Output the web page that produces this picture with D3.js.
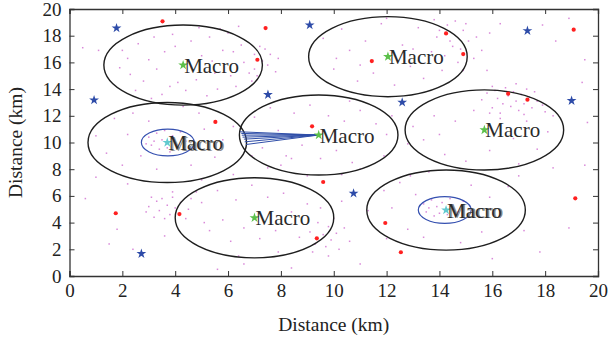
<!DOCTYPE html>
<html>
<head>
<meta charset="utf-8">
<script src="https://cdn.jsdelivr.net/npm/d3@7"></script>
<style>
body { margin: 0; background: #fff; }
</style>
</head>
<body>
<script>
var width = 610;
var height = 341;
var margin = { top: 9, right: 12, bottom: 65, left: 69.5 };
var fontFamily = '"Liberation Serif", "Times New Roman", serif';

var xTicks = [0, 2, 4, 6, 8, 10, 12, 14, 16, 18, 20];
var yTicks = [0, 2, 4, 6, 8, 10, 12, 14, 16, 18, 20];

// macro cells: centre (km), coverage radius 3 km
var macroX = [4.3, 12.05, 9.43, 15.7, 3.7, 7.0, 14.25];
var macroY = [15.8, 16.43, 10.56, 10.94, 10.0, 4.36, 4.94];
var macroR = [3, 3, 3, 3, 3, 3, 3];

// small cells inside macro 5 and 7
var smallX = [3.72, 14.2];
var smallY = [10.0, 4.94];
var smallR = [1, 1];

// links from macro 3
var linkX = [6.45, 6.5, 6.52, 6.55, 6.6, 6.63, 6.68];
var linkY = [10.8, 10.68, 10.55, 10.4, 10.25, 10.05, 9.85];

var blueX = [1.78, 0.93, 9.09, 7.51, 12.59, 17.33, 19.0, 10.75, 2.72];
var blueY = [18.57, 13.18, 18.8, 13.58, 13.01, 18.37, 13.13, 6.19, 1.67];

var redX = [3.52, 7.42, 14.25, 11.44, 14.9, 19.08, 7.11, 16.6, 17.33, 9.18, 5.52, 9.6, 1.75, 4.16, 9.36, 11.95, 12.54, 19.14];
var redY = [19.08, 18.57, 18.17, 16.1, 16.62, 18.45, 16.2, 13.66, 13.21, 11.21, 11.54, 7.04, 4.7, 4.64, 2.82, 3.97, 1.78, 5.82];

var users = [
    [2.0,16.9],[2.3,15.1],[2.6,17.4],[2.8,14.6],[3.0,16.2],[3.2,17.9],[3.3,15.5],[3.5,13.6],[3.6,16.8],[3.8,14.2],
    [3.9,18.1],[4.0,17.2],[4.4,13.9],[4.6,17.6],[4.8,14.7],[5.0,16.5],[5.2,13.5],[5.3,17.9],[5.5,15.2],[5.6,14.0],
    [5.8,16.9],[6.0,18.2],[6.1,15.0],[6.3,14.2],[6.5,17.3],[6.6,16.0],[6.8,15.2],[7.0,16.6],[7.2,17.2],[6.9,14.6],
    [2.5,13.9],[3.1,13.3],[4.9,18.6],[5.7,18.5],[6.4,18.7],[1.9,15.6],[2.2,16.3],[4.1,14.5],[5.4,16.1],[6.2,16.8],
    [0.5,17.1],[1.1,16.9],
    [9.6,17.8],[10.0,15.5],[10.3,18.5],[10.6,16.9],[10.9,14.6],[11.2,17.6],[11.5,15.2],[11.8,18.9],[12.3,14.3],[12.6,17.3],
    [12.9,15.7],[13.2,18.6],[13.4,14.8],[13.7,16.8],[13.9,17.9],[14.1,15.4],[14.3,18.8],[14.5,17.2],[14.7,16.0],[14.9,18.4],
    [15.1,17.6],[15.3,16.3],[14.6,19.1],[14.0,18.4],[14.4,17.6],[14.8,17.0],[15.0,18.9],[13.8,19.2],[15.4,17.9],[14.2,16.5],
    [14.9,15.4],[15.6,16.9],[15.8,15.4],[10.1,16.3],[11.0,15.8],[12.0,19.3],[13.0,17.0],
    [15.6,13.2],[15.8,13.7],[16.0,12.6],[16.1,13.9],[16.2,13.3],[16.4,12.9],[16.5,14.1],[16.6,13.5],[16.7,12.7],[16.8,13.8],
    [16.9,13.1],[17.0,12.4],[17.1,13.6],[17.2,12.9],[17.3,14.0],[17.4,13.4],[17.5,12.6],[17.7,13.1],[17.9,12.8],[16.3,12.2],
    [16.0,14.2],[17.6,13.8],[16.9,14.4],[15.9,12.2],[18.0,12.3],[17.2,12.1],
    [13.0,11.2],[13.4,10.2],[13.8,12.0],[14.2,9.1],[14.6,11.6],[15.0,8.6],[15.3,12.4],[15.9,9.4],[16.3,11.8],[16.8,10.3],
    [17.3,11.6],[17.7,9.5],[18.1,10.8],[14.0,10.6],[17.0,8.4],[18.3,12.0],[12.8,9.9],[19.6,11.5],[19.4,14.5],
    [17.9,18.8],[18.4,17.6],[19.5,16.2],[18.9,19.3],[16.3,18.9],[15.9,18.2],
    [7.0,11.9],[7.3,9.6],[7.6,12.6],[7.9,10.9],[8.2,9.0],[8.5,12.2],[8.8,9.8],[9.1,12.8],[9.5,8.8],[9.8,12.0],
    [10.1,9.4],[10.4,11.6],[10.7,8.5],[11.0,12.4],[11.3,10.0],[11.6,11.4],[11.9,9.0],[8.0,8.3],[10.6,13.1],[12.2,12.0],
    [6.9,9.0],[7.5,8.1],[12.0,10.6],
    [7.0,15.5],[7.3,16.1],[7.5,15.8],[7.6,16.6],[7.8,15.3],[7.4,17.0],[7.9,16.3],[7.1,15.0],
    [1.0,10.5],[1.4,9.2],[1.7,11.8],[2.0,8.3],[2.4,12.2],[2.7,9.0],[3.0,11.6],[3.3,8.0],[4.3,12.7],[4.6,8.3],
    [5.1,11.0],[5.5,8.9],[5.8,10.2],[6.2,11.2],[2.2,10.6],[4.9,12.2],
    [3.0,10.4],[3.1,9.8],[3.3,10.7],[3.4,9.5],[3.5,10.2],[3.6,10.9],[3.8,9.3],[3.9,10.5],[4.1,9.8],[4.2,10.8],
    [4.4,10.1],[3.2,10.1],[3.7,9.6],[2.9,9.9],[4.5,9.6],
    [2.9,4.8],[3.0,5.2],[3.2,4.4],[3.3,5.6],[3.4,4.9],[3.5,5.8],[3.6,4.3],[3.7,5.3],[3.8,4.6],[3.9,5.9],
    [4.0,5.1],[4.2,5.5],[4.4,4.3],[3.1,5.9],[4.6,5.8],[4.5,5.0],[2.2,6.9],[3.6,3.0],[1.8,3.5],[3.9,6.3],
    [5.0,5.5],[5.3,3.4],[5.6,6.4],[5.8,4.2],[6.1,2.6],[6.3,5.7],[6.6,3.6],[6.9,6.8],[7.2,2.8],[7.5,5.9],
    [7.8,3.4],[8.1,6.2],[8.4,4.8],[8.7,2.9],[9.0,5.4],[6.4,1.5],[5.1,4.0],[4.8,6.3],[7.9,1.8],
    [9.1,3.3],[9.3,2.4],[9.4,4.0],[9.6,3.1],[9.7,2.2],[9.8,3.7],[9.9,2.7],[10.0,4.3],[10.1,3.2],[10.2,2.0],
    [10.4,3.6],[9.5,5.1],[10.3,5.6],[9.2,1.8],[10.6,2.6],[9.8,1.5],
    [8.4,8.8],[9.0,7.5],[10.3,7.6],[11.0,8.0],[6.2,7.6],[5.0,7.2],
    [11.9,6.4],[12.2,5.1],[12.5,7.0],[12.8,3.5],[13.1,6.1],[13.4,2.9],[15.2,6.8],[15.6,3.3],[15.9,5.9],[16.3,4.4],
    [16.6,6.7],[12.9,7.5],[13.6,7.8],[14.8,2.5],[11.3,4.9],[17.2,3.4],[18.3,8.1],[17.0,7.5],
    [13.4,5.4],[13.5,4.8],[13.7,5.7],[13.8,4.5],[13.9,5.2],[14.0,4.7],[14.1,5.5],[14.3,4.6],[14.5,5.3],[14.7,4.8],
    [14.9,5.6],[13.6,5.1],[14.4,5.8],
    [1.0,7.4],[1.5,2.4],[2.4,2.0],[0.6,5.8],[8.4,0.6],[11.0,0.9],[12.0,2.8],[16.0,1.3],[17.8,1.8],[18.9,3.6],
    [19.5,8.3],[5.6,0.5],[6.6,0.9]
];

var svg = d3.select('body')
    .append('svg')
    .attr('width', width)
    .attr('height', height);

var x = d3.scaleLinear().domain([0, 20]).range([margin.left, width - margin.right]);
var y = d3.scaleLinear().domain([0, 20]).range([height - margin.bottom, margin.top]);
var kx = x(1) - x(0);
var ky = y(0) - y(1);

var plot = svg.append('g');

// users
plot.selectAll('rect.user')
    .data(users)
    .enter()
    .append('rect')
    .attr('class', 'user')
    .attr('x', function(d) { return x(d[0]) - 0.75; })
    .attr('y', function(d) { return y(d[1]) - 0.75; })
    .attr('width', 1.5)
    .attr('height', 1.5)
    .attr('fill', '#d06ccf')
    .attr('opacity', 0.8);

// coverage circles (km) -> ellipses on screen
plot.selectAll('ellipse.macro')
    .data(macroX)
    .enter()
    .append('ellipse')
    .attr('cx', function(d) { return x(d); })
    .attr('cy', function(d, i) { return y(macroY[i]); })
    .attr('rx', function(d, i) { return macroR[i] * kx; })
    .attr('ry', function(d, i) { return macroR[i] * ky; })
    .attr('fill', 'none')
    .attr('stroke', '#1e1e1e')
    .attr('stroke-width', 1.4);

plot.selectAll('ellipse.small')
    .data(smallX)
    .enter()
    .append('ellipse')
    .attr('cx', function(d) { return x(d); })
    .attr('cy', function(d, i) { return y(smallY[i]); })
    .attr('rx', function(d, i) { return smallR[i] * kx; })
    .attr('ry', function(d, i) { return smallR[i] * ky; })
    .attr('fill', 'none')
    .attr('stroke', '#3550b0')
    .attr('stroke-width', 1.2);

// links
plot.selectAll('line.link')
    .data(linkX)
    .enter()
    .append('line')
    .attr('x1', x(macroX[2]))
    .attr('y1', y(macroY[2]))
    .attr('x2', function(d) { return x(d); })
    .attr('y2', function(d, i) { return y(linkY[i]); })
    .attr('stroke', '#2f4ea8')
    .attr('stroke-width', 1);

// red dots
plot.selectAll('circle.red')
    .data(redX)
    .enter()
    .append('circle')
    .attr('cx', function(d) { return x(d); })
    .attr('cy', function(d, i) { return y(redY[i]); })
    .attr('r', 2.1)
    .attr('fill', '#ff2020');

var star = d3.symbol().type(d3.symbolStar).size(30);

plot.selectAll('path.blue')
    .data(blueX)
    .enter()
    .append('path')
    .attr('d', star)
    .attr('transform', function(d, i) { return 'translate(' + x(d) + ',' + y(blueY[i]) + ')'; })
    .attr('fill', '#2d4ba8');

// macro stars
plot.selectAll('path.macro')
    .data(macroX)
    .enter()
    .append('path')
    .attr('d', star)
    .attr('transform', function(d, i) { return 'translate(' + x(d) + ',' + y(macroY[i]) + ')'; })
    .attr('fill', function(d, i) { return (i === 4 || i === 6) ? '#62c9cf' : '#5cc04a'; });

// labels (macro 5 and 7 are drawn twice, slightly offset)
macroX.forEach(function(d, i) {
    if (i === 4 || i === 6) {
        plot.append('text')
            .attr('x', x(d) + 2.5)
            .attr('y', y(macroY[i]) + 8)
            .attr('font-size', 21)
            .style('font-family', fontFamily)
            .attr('fill', '#888')
            .text('Macro');
    }
    plot.append('text')
        .attr('x', x(d) + 1)
        .attr('y', y(macroY[i]) + 7.5)
        .attr('font-size', 21)
        .style('font-family', fontFamily)
        .attr('fill', '#2a2a2a')
        .text('Macro');
});

// axes with inward ticks, boxed
var axisColor = '#333';
var xb = svg.append('g').attr('transform', 'translate(0,' + y(0) + ')')
    .call(d3.axisBottom(x).tickValues(xTicks).tickSize(-5).tickPadding(8).tickFormat(d3.format('d')));
var xt = svg.append('g').attr('transform', 'translate(0,' + y(20) + ')')
    .call(d3.axisTop(x).tickValues(xTicks).tickSize(-5).tickFormat(''));
var yl = svg.append('g').attr('transform', 'translate(' + x(0) + ',0)')
    .call(d3.axisLeft(y).tickValues(yTicks).tickSize(-5).tickPadding(8).tickFormat(d3.format('d')));
var yr = svg.append('g').attr('transform', 'translate(' + x(20) + ',0)')
    .call(d3.axisRight(y).tickValues(yTicks).tickSize(-5).tickFormat(''));

[xb, xt, yl, yr].forEach(function(g) {
    g.selectAll('path').attr('stroke', axisColor).attr('stroke-width', 1.3);
    g.selectAll('line').attr('stroke', axisColor).attr('stroke-width', 1);
    g.selectAll('text')
        .attr('font-size', 19)
        .style('font-family', fontFamily)
        .attr('fill', '#222');
});

svg.append('text')
    .attr('x', (x(0) + x(20)) / 2)
    .attr('y', 331)
    .attr('text-anchor', 'middle')
    .attr('font-size', 19.5)
    .style('font-family', fontFamily)
    .attr('fill', '#222')
    .text('Distance (km)');

svg.append('text')
    .attr('transform', 'translate(22,' + (y(10)) + ') rotate(-90)')
    .attr('text-anchor', 'middle')
    .attr('font-size', 19.5)
    .style('font-family', fontFamily)
    .attr('fill', '#222')
    .text('Distance (km)');
</script>
</body>
</html>
